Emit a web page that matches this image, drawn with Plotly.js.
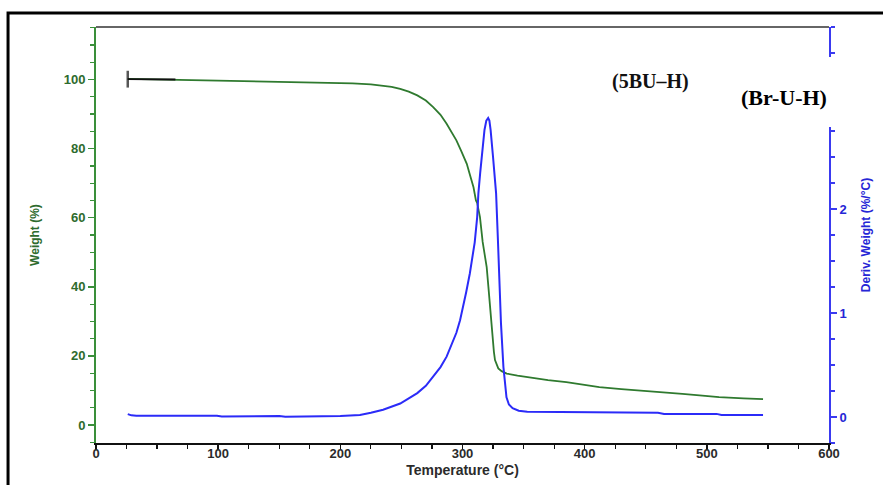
<!DOCTYPE html>
<html>
<head>
<meta charset="utf-8">
<script src="https://cdn.plot.ly/plotly-3.0.1.min.js"></script>
<style>html,body{margin:0;padding:0;background:#fff;}#chart{width:883px;height:485px;}</style>
</head>
<body>
<div id="chart"></div>
<script>
// Weight (%) curve — green, left axis
const weightTemp = [26, 40, 64, 100, 130, 167, 200, 210, 225, 235, 242, 249, 256, 263, 270, 276, 282, 287, 291, 295, 299, 303.5, 306, 309, 311, 312, 313, 314.3, 316.5, 318.2, 319.8, 321.2, 322.5, 323.6, 324.7, 325.7, 326.6, 328, 329.3, 332, 336.2, 345, 358, 370, 385, 400, 412, 430, 450, 467, 480, 494, 510, 530, 546];
const weightPct  = [100.2, 100.1, 100.0, 99.7, 99.5, 99.2, 99.0, 98.9, 98.6, 98.3, 97.9, 97.3, 96.5, 95.4, 93.9, 92.0, 89.8, 87.2, 85.0, 82.4, 79.3, 75.6, 72.5, 68.8, 65.0, 64.3, 62.5, 60.2, 53.0, 49.5, 45.7, 40.0, 34.2, 29.0, 24.6, 21.2, 18.8, 17.3, 16.4, 15.6, 14.9, 14.3, 13.6, 13.0, 12.4, 11.6, 11.0, 10.4, 9.9, 9.5, 9.0, 8.6, 8.1, 7.7, 7.5];

// Derivative weight (%/°C) curve — blue, right axis
const derivTemp = [26, 29, 33, 60, 99, 103, 118, 122, 150, 155, 180, 200, 216, 225, 235, 242, 249, 256, 263, 270, 276, 282, 287, 291, 295, 298, 300.5, 303, 306, 308, 310, 312, 313, 314.5, 316, 318, 319.5, 321, 322, 323, 325, 327.5, 329, 330, 331.5, 333.5, 336, 338, 341, 346, 353, 380, 412, 440, 460, 465, 508, 512, 546];
const derivVal  = [0.028, 0.016, 0.012, 0.012, 0.012, 0.004, 0.004, 0.01, 0.01, 0.002, 0.004, 0.01, 0.02, 0.04, 0.07, 0.10, 0.13, 0.18, 0.23, 0.30, 0.39, 0.48, 0.58, 0.69, 0.81, 0.93, 1.06, 1.20, 1.38, 1.52, 1.68, 1.92, 2.15, 2.35, 2.54, 2.76, 2.85, 2.875, 2.85, 2.76, 2.50, 2.15, 1.70, 1.38, 0.90, 0.48, 0.19, 0.12, 0.085, 0.06, 0.05, 0.048, 0.045, 0.043, 0.04, 0.03, 0.03, 0.02, 0.02];

// Black start marker segment on the weight curve
const startTemp = [26, 65];
const startPct  = [100.1, 100.0];

// Axis tick values
const xTicks = [0, 100, 200, 300, 400, 500, 600];
const yLeftTicks = [0, 20, 40, 60, 80, 100];
const yRightTicks = [0, 1, 2];

// Labels
const sampleLabel = "(5BU\u2013H)";
const compoundLabel = "(Br-U-H)";

const GREEN_LINE = '#2f7a2f';
const GREEN_AXIS = '#3a8f3a';
const GREEN_TEXT = '#2e6b2e';
const BLUE_LINE = '#2b2bf8';
const BLUE_AXIS = '#3a3af0';
const BLUE_TEXT = '#2626d6';
const FONT = 'Liberation Sans, Arial, sans-serif';

const traces = [
  {
    x: derivTemp, y: derivVal, yaxis: 'y2', type: 'scatter', mode: 'lines',
    line: {color: BLUE_LINE, width: 2}, hoverinfo: 'x+y'
  },
  {
    x: weightTemp, y: weightPct, yaxis: 'y', type: 'scatter', mode: 'lines',
    line: {color: GREEN_LINE, width: 1.8}, hoverinfo: 'x+y'
  },
  {
    x: startTemp, y: startPct, yaxis: 'y', type: 'scatter', mode: 'lines+markers',
    line: {color: '#111', width: 1.8},
    marker: {symbol: 'line-ns', size: [12, 0], line: {color: '#111', width: 2.5}},
    hoverinfo: 'skip'
  }
];

const layout = {
  width: 883, height: 485,
  margin: {l: 96, r: 54, t: 27, b: 42},
  paper_bgcolor: '#fff', plot_bgcolor: '#fff',
  showlegend: false,
  xaxis: {
    range: [0, 600], tickvals: xTicks, ticktext: xTicks.map(String),
    ticks: 'outside', ticklen: 5, tickwidth: 1.5, tickcolor: '#111',
    showline: true, linecolor: '#111', linewidth: 2,
    showgrid: false, zeroline: false, ticklabelstandoff: -8,
    minor: {dtick: 25, tick0: 0, ticks: 'outside', ticklen: 4, tickwidth: 1.2, tickcolor: '#111', showgrid: false},
    tickfont: {family: FONT, size: 13, color: '#2b2b2b', weight: 'bold'},
    title: {text: 'Temperature (\u00b0C)', font: {family: FONT, size: 14, color: '#2b2b2b', weight: 'bold'}, standoff: 6}
  },
  yaxis: {
    range: [-5.2, 115.2], tickvals: yLeftTicks, ticktext: yLeftTicks.map(String),
    ticks: 'outside', ticklen: 6, tickwidth: 1.5, tickcolor: GREEN_AXIS,
    showline: true, linecolor: GREEN_AXIS, linewidth: 2,
    showgrid: false, zeroline: false,
    minor: {dtick: 5, tick0: 0, ticks: 'outside', ticklen: 4, tickwidth: 1.2, tickcolor: GREEN_AXIS, showgrid: false},
    tickfont: {family: FONT, size: 13, color: GREEN_TEXT, weight: 'bold'},
    title: {text: 'Weight (%)', font: {family: FONT, size: 12, color: GREEN_TEXT, weight: 'bold'}, standoff: 21}
  },
  yaxis2: {
    overlaying: 'y', side: 'right', anchor: 'x',
    range: [-0.25, 3.75], tickvals: yRightTicks, ticktext: yRightTicks.map(String),
    ticks: 'outside', ticklen: 6, tickwidth: 1.5, tickcolor: BLUE_AXIS,
    showline: true, linecolor: BLUE_AXIS, linewidth: 2,
    showgrid: false, zeroline: false,
    minor: {dtick: 0.25, tick0: 0, ticks: 'outside', ticklen: 4, tickwidth: 1.2, tickcolor: BLUE_AXIS, showgrid: false},
    tickfont: {family: FONT, size: 13, color: BLUE_TEXT, weight: 'bold'},
    title: {text: 'Deriv. Weight (%/\u00b0C)', font: {family: FONT, size: 12, color: BLUE_TEXT, weight: 'bold'}, standoff: 16}
  },
  shapes: [
    // grey top border of the plot frame
    {type: 'line', xref: 'paper', yref: 'paper', x0: 0, x1: 1, y0: 1, y1: 1,
     line: {color: '#666', width: 2}, layer: 'above'},
    // white patch hiding part of the right axis behind the compound label
    {type: 'rect', xref: 'paper', yref: 'paper', x0: 0.869, x1: 1.04, y0: 0.7596, y1: 0.928,
     fillcolor: '#fff', line: {width: 0}, layer: 'above'},
    // outer black frame of the figure
    {type: 'rect', xref: 'paper', yref: 'paper', x0: -0.12, x1: 1.3, y0: -0.4, y1: 1.0337,
     line: {color: '#000', width: 3}, fillcolor: 'rgba(0,0,0,0)', layer: 'above'}
  ],
  annotations: [
    {text: sampleLabel, xref: 'paper', yref: 'paper', x: 0.757, y: 0.870,
     showarrow: false, xanchor: 'center', yanchor: 'middle',
     font: {family: 'Liberation Serif, Times New Roman, serif', size: 20, color: '#111', weight: 'bold'}},
    {text: compoundLabel, xref: 'paper', yref: 'paper', x: 0.9386, y: 0.8317,
     showarrow: false, xanchor: 'center', yanchor: 'middle',
     font: {family: 'Liberation Serif, Times New Roman, serif', size: 22, color: '#000', weight: 'bold'}}
  ]
};

Plotly.newPlot('chart', traces, layout, {displayModeBar: false, staticPlot: true});
</script>
</body>
</html>
